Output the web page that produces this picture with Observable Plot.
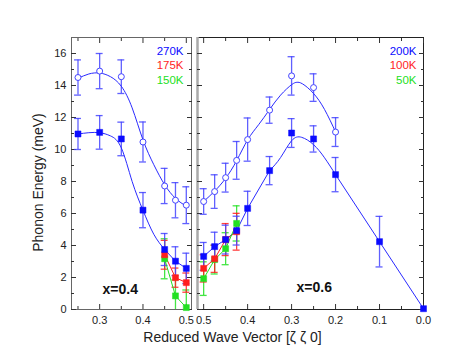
<!DOCTYPE html>
<html>
<head>
<meta charset="utf-8">
<script src="https://cdn.jsdelivr.net/npm/d3@7"></script>
<script src="https://cdn.jsdelivr.net/npm/@observablehq/plot@0.6"></script>
<style>
  body { margin: 0; background: #fff; }
  #chart { position: relative; width: 471px; height: 364px; font-family: "Liberation Sans", Arial, sans-serif; }
  #left, #right { position: absolute; top: 0; }
  #left { left: 0; }
  #right { left: 194px; }
  #xlabel { position: absolute; left: 0; width: 465px; top: 329px; text-align: center; font-size: 14px; line-height: 16px; color: #222; }
</style>
</head>
<body>
<div id="chart">
  <div id="left"></div>
  <div id="right"></div>
  <div id="xlabel">Reduced Wave Vector [ζ ζ 0]</div>
</div>
<script>
// ---------- axes / labels ----------
const yDomain = [0, 17];
const yMajor = [0, 2, 4, 6, 8, 10, 12, 14, 16];
const yMinor = [1, 3, 5, 7, 9, 11, 13, 15];
const leftDomain = [0.235, 0.512];
const rightDomain = [0.514, 0];
const leftXMajor = [0.3, 0.4, 0.5];
const leftXMinor = [0.25, 0.35, 0.45];
const rightXMajor = [0.5, 0.4, 0.3, 0.2, 0.1, 0.0];
const rightXMinor = [0.45, 0.35, 0.25, 0.15, 0.05];
const yTitle = "Phonon Energy (meV)";
const leftLegend = ["270K", "175K", "150K"];
const rightLegend = ["200K", "100K", "50K"];
const panelLabels = ["x=0.4", "x=0.6"];

// ---------- left panel (x=0.4) ----------
const leftQ = [0.25, 0.3, 0.35, 0.4, 0.45, 0.475, 0.5];
const left270Upper = [14.5, 14.9, 14.55, 10.47, 7.72, 6.83, 6.52];
const left270UpperErr = [1.1, 1.1, 1.05, 1.25, 1.1, 1.1, 1.15];
const left270Lower = [10.97, 11.07, 10.66, 6.21, 3.75, 3.02, 2.57];
const left270LowerErr = [0.97, 1.05, 1.05, 1.1, 1.0, 0.9, 0.95];
const leftLowQ = [0.45, 0.475, 0.5];
const left175 = [3.42, 1.99, 1.68];
const left175Err = [0.9, 0.6, 0.6];
const left150 = [3.17, 0.85, 0.12];
const left150Err = [1.25, 1.0, 1.1];
// fitted curves
const leftFitUpperQ = [0.25, 0.275, 0.3, 0.325, 0.35, 0.375, 0.4, 0.425, 0.45, 0.475, 0.5];
const leftFitUpper = [14.45, 14.72, 14.78, 14.55, 13.95, 12.6, 10.6, 9.05, 7.8, 6.95, 6.45];
const leftFitLowerQ = [0.25, 0.275, 0.3, 0.325, 0.35, 0.375, 0.4, 0.425, 0.45];
const leftFitLower = [10.97, 11.05, 11.05, 10.85, 10.1, 8.0, 6.2, 4.7, 3.75];

// ---------- right panel (x=0.6) ----------
const rightQ = [0.5, 0.475, 0.45, 0.425, 0.4, 0.35, 0.3, 0.25, 0.2];
const right200Upper = [6.75, 7.37, 8.24, 9.32, 10.62, 12.46, 14.6, 13.87, 11.09];
const right200UpperErr = [0.8, 1.05, 0.9, 1.18, 1.35, 0.82, 1.2, 0.86, 0.9];
const rightLowerQ = [0.5, 0.475, 0.45, 0.425, 0.4, 0.35, 0.3, 0.25, 0.2, 0.1, 0.0];
const right200Lower = [3.32, 3.93, 4.37, 4.93, 6.32, 8.68, 11.03, 10.66, 8.43, 4.24, 0.05];
const right200LowerErr = [0.87, 0.9, 0.9, 0.9, 1.07, 0.88, 0.9, 0.82, 1.07, 1.58, 0];
const rightLowQ = [0.5, 0.475, 0.45, 0.425];
const right100 = [2.57, 3.17, 4.37, 4.86];
const right100Err = [0.85, 0.85, 1.0, 1.15];
const right50 = [1.93, 3.12, 3.8, 5.38];
const right50Err = [1.05, 0.9, 1.0, 1.1];
const rightFitUpperQ = [0.5, 0.475, 0.45, 0.425, 0.4, 0.375, 0.35, 0.325, 0.3, 0.288, 0.275, 0.25, 0.225, 0.2];
const rightFitUpper = [6.75, 7.4, 8.2, 9.3, 10.6, 11.55, 12.5, 13.4, 14.05, 14.2, 14.1, 13.5, 12.5, 11.1];
const rightFitLowerQ = [0.35, 0.325, 0.3, 0.277, 0.25, 0.225, 0.2];
const rightFitLower = [8.68, 9.5, 10.55, 10.76, 10.3, 9.48, 8.43];

// ---------- styles ----------
const blue = "#0b0bff", barBlue = "#4444ff", lineBlue = "#2a2aff";
const red = "#ff1e1e", green = "#22e022";
const tickColor = "#333";

const rows = (q, y, e) => q.map((d, i) => ({q: d, y: y[i], e: e ? e[i] : 0}));

function errorBars(data, color, op = 0.85) {
  const cap = 0.008;
  const b = data.filter(d => d.e > 0);
  const common = {stroke: color, strokeWidth: 1.3, strokeOpacity: op, clip: true};
  return [
    Plot.ruleX(b, {x: "q", y1: d => d.y - d.e, y2: d => d.y + d.e, ...common}),
    Plot.ruleY(b, {y: d => d.y + d.e, x1: d => d.q - cap, x2: d => d.q + cap, ...common}),
    Plot.ruleY(b, {y: d => d.y - d.e, x1: d => d.q - cap, x2: d => d.q + cap, ...common})
  ];
}
const squares = (data, color) => Plot.dot(data, {x: "q", y: "y", symbol: "square", r: 3.4, fill: color, stroke: color, strokeWidth: 0.5});
const circles = (data, color) => Plot.dot(data, {x: "q", y: "y", symbol: "circle", r: 3, fill: "white", stroke: color, strokeWidth: 1});
const fitLine = (data, color) => Plot.line(data, {x: "q", y: "y", curve: "natural", stroke: color, strokeWidth: 1});
const segLine = (data, color) => Plot.line(data, {x: "q", y: "y", stroke: color, strokeWidth: 1});

function tickAxes(xMajor, xMinor) {
  const t = {stroke: tickColor, tickFormat: () => "", label: null};
  return [
    Plot.axisY({anchor: "left", ticks: yMajor, tickSize: -5, ...t}),
    Plot.axisY({anchor: "left", ticks: yMinor, tickSize: -3, ...t}),
    Plot.axisY({anchor: "right", ticks: yMajor, tickSize: -5, ...t}),
    Plot.axisY({anchor: "right", ticks: yMinor, tickSize: -3, ...t}),
    Plot.axisX({anchor: "bottom", ticks: xMajor, tickSize: -5, ...t}),
    Plot.axisX({anchor: "bottom", ticks: xMinor, tickSize: -3, ...t}),
    Plot.axisX({anchor: "top", ticks: xMajor, tickSize: -5, ...t}),
    Plot.axisX({anchor: "top", ticks: xMinor, tickSize: -3, ...t})
  ];
}
function legend(labels, dx) {
  const colors = [blue, red, green];
  const dys = [14, 27.6, 42.6];
  return labels.map((l, i) => Plot.text([l], {frameAnchor: "top-right", dx, dy: dys[i], fill: colors[i], textAnchor: "end", lineAnchor: "middle", fontSize: 11.5}));
}

const baseStyle = {fontFamily: "'Liberation Sans', Arial, sans-serif", fontSize: "11px", background: "transparent", overflow: "visible", color: "#222"};

// ---------- left plot ----------
const L1 = rows(leftQ, left270Upper, left270UpperErr);
const L2 = rows(leftQ, left270Lower, left270LowerErr);
const L3 = rows(leftLowQ, left175, left175Err);
const L4 = rows(leftLowQ, left150, left150Err);

const leftPlot = Plot.plot({
  width: 194, height: 364,
  marginLeft: 71, marginRight: 3, marginTop: 37, marginBottom: 55,
  style: baseStyle,
  x: {domain: leftDomain, label: null},
  y: {domain: yDomain, label: null},
  marks: [
    Plot.frame({stroke: "#666"}),
    ...tickAxes(leftXMajor, leftXMinor),
    Plot.axisY({anchor: "left", ticks: yMajor, tickSize: 0, tickPadding: 5, label: null, fontSize: 11}),
    Plot.axisX({anchor: "bottom", ticks: leftXMajor, tickSize: 0, tickPadding: 7, tickFormat: d3.format(".1f"), label: null, fontSize: 11}),
    ...errorBars(L4, green),
    ...errorBars(L3, red),
    ...errorBars(L1, barBlue),
    ...errorBars(L2, barBlue),
    fitLine(rows(leftFitUpperQ, leftFitUpper), lineBlue),
    fitLine(rows(leftFitLowerQ, leftFitLower), lineBlue),
    segLine(L2.filter(d => d.q >= 0.45), lineBlue),
    segLine(L3, red),
    segLine(L4, green),
    circles(L1, barBlue),
    squares(L4, green),
    squares(L3, red),
    squares(L2, blue),
    ...legend(leftLegend, -8),
    Plot.text([panelLabels[0]], {frameAnchor: "bottom-left", dx: 31, dy: -20, fontWeight: "bold", fontSize: 14, textAnchor: "start", lineAnchor: "middle", fill: "#111"}),
    Plot.text([yTitle], {frameAnchor: "left", rotate: -90, dx: -33, dy: 9, fontSize: 14, textAnchor: "middle", lineAnchor: "middle", fill: "#222"})
  ]
});
document.getElementById("left").append(leftPlot);

// ---------- right plot ----------
const R1 = rows(rightQ, right200Upper, right200UpperErr);
const R2 = rows(rightLowerQ, right200Lower, right200LowerErr);
const R3 = rows(rightLowQ, right100, right100Err);
const R4 = rows(rightLowQ, right50, right50Err);

const rightPlot = Plot.plot({
  width: 277, height: 364,
  marginLeft: 3, marginRight: 48, marginTop: 37, marginBottom: 55,
  style: baseStyle,
  x: {domain: rightDomain, label: null},
  y: {domain: yDomain, label: null},
  marks: [
    Plot.frame({stroke: "#222"}),
    Plot.ruleX([rightDomain[0]], {stroke: "#aaa", strokeWidth: 2.5}),
    ...tickAxes(rightXMajor, rightXMinor),
    Plot.axisX({anchor: "bottom", ticks: rightXMajor, tickSize: 0, tickPadding: 7, tickFormat: d3.format(".1f"), label: null, fontSize: 11}),
    ...errorBars(R4, green),
    ...errorBars(R3, red),
    ...errorBars(R1, barBlue),
    ...errorBars(R2, barBlue),
    fitLine(rows(rightFitUpperQ, rightFitUpper), lineBlue),
    fitLine(rows(rightFitLowerQ, rightFitLower), lineBlue),
    segLine(R2.filter(d => d.q >= 0.35), lineBlue),
    segLine(R2.filter(d => d.q <= 0.2), lineBlue),
    segLine(R3, red),
    segLine(R4, green),
    circles(R1, barBlue),
    squares(R4, green),
    squares(R3, red),
    squares(R2, blue),
    ...legend(rightLegend, -7),
    Plot.text([panelLabels[1]], {frameAnchor: "bottom-left", dx: 99, dy: -22, fontWeight: "bold", fontSize: 14, textAnchor: "start", lineAnchor: "middle", fill: "#111"})
  ]
});
document.getElementById("right").append(rightPlot);
</script>
</body>
</html>
